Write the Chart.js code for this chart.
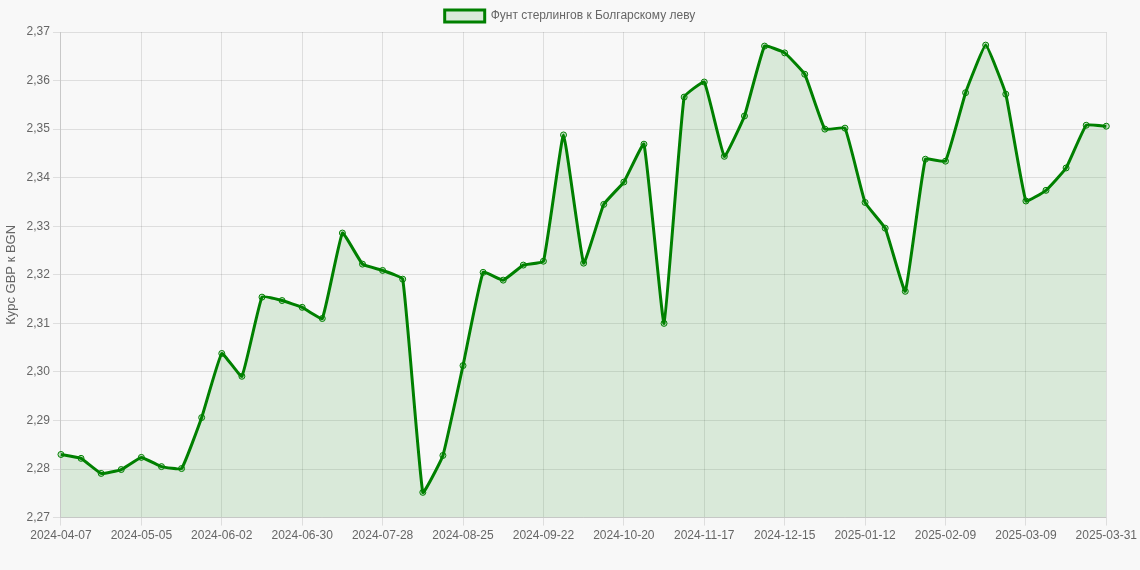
<!DOCTYPE html>
<html><head><meta charset="utf-8">
<script src="https://cdn.jsdelivr.net/npm/chart.js@4"></script>
<style>html,body{margin:0;padding:0;background:#f8f8f8}#w{width:1140px;height:570px}</style>
</head><body><div id="w"><canvas id="c"></canvas></div>
<script>
const labels = ["2024-04-07","2024-04-14","2024-04-21","2024-04-28","2024-05-05","2024-05-12","2024-05-19","2024-05-26","2024-06-02","2024-06-09","2024-06-16","2024-06-23","2024-06-30","2024-07-07","2024-07-14","2024-07-21","2024-07-28","2024-08-04","2024-08-11","2024-08-18","2024-08-25","2024-09-01","2024-09-08","2024-09-15","2024-09-22","2024-09-29","2024-10-06","2024-10-13","2024-10-20","2024-10-27","2024-11-03","2024-11-10","2024-11-17","2024-11-24","2024-12-01","2024-12-08","2024-12-15","2024-12-22","2024-12-29","2025-01-05","2025-01-12","2025-01-19","2025-01-26","2025-02-02","2025-02-09","2025-02-16","2025-02-23","2025-03-02","2025-03-09","2025-03-16","2025-03-23","2025-03-30","2025-03-31"];
const rates = [2.2830,2.2822,2.2791,2.2799,2.2824,2.2805,2.2801,2.2906,2.3038,2.2991,2.3154,2.3147,2.3133,2.3110,2.3286,2.3222,2.3209,2.3191,2.2752,2.2828,2.3013,2.3205,2.3189,2.3220,2.3228,2.3488,2.3224,2.3345,2.3391,2.3469,2.3100,2.3566,2.3597,2.3444,2.3527,2.3671,2.3657,2.3613,2.3500,2.3502,2.3349,2.3296,2.3166,2.3438,2.3434,2.3575,2.3673,2.3572,2.3352,2.3374,2.3420,2.3508,2.3506];
const seriesName = "Фунт стерлингов к Болгарскому леву";
const yTitle = "Курс GBP к BGN";
Chart.defaults.font.family = "'Liberation Sans', Arial, sans-serif";
Chart.defaults.color = "#666";
new Chart(document.getElementById('c'), {
  type: 'line',
  data: { labels, datasets: [{
    label: seriesName, data: rates,
    borderColor: 'green', backgroundColor: 'rgba(0,128,0,0.12)',
    borderWidth: 3, fill: true, tension: 0.1,
    pointRadius: 3, pointBorderWidth: 1, pointBackgroundColor: 'rgba(0,128,0,0.2)', pointBorderColor: 'green'
  }]},
  options: {
    responsive: true, maintainAspectRatio: false, animation: false,
    layout: { padding: { bottom: 24 } },
    plugins: { legend: { labels: { boxWidth: 40 } } },
    scales: {
      x: { grid: { color: 'rgba(0,0,0,0.1)' },
        ticks: { autoSkip: false, maxRotation: 0, callback: function(v, i){ return i % 4 === 0 ? this.getLabelForValue(v) : null; } } },
      y: { min: 2.27, max: 2.37, grid: { color: 'rgba(0,0,0,0.1)' },
        title: { display: true, text: yTitle, font: { size: 13 } },
        ticks: { stepSize: 0.01, callback: v => v.toFixed(2).replace('.', ',') } }
    }
  }
});
</script></body></html>
